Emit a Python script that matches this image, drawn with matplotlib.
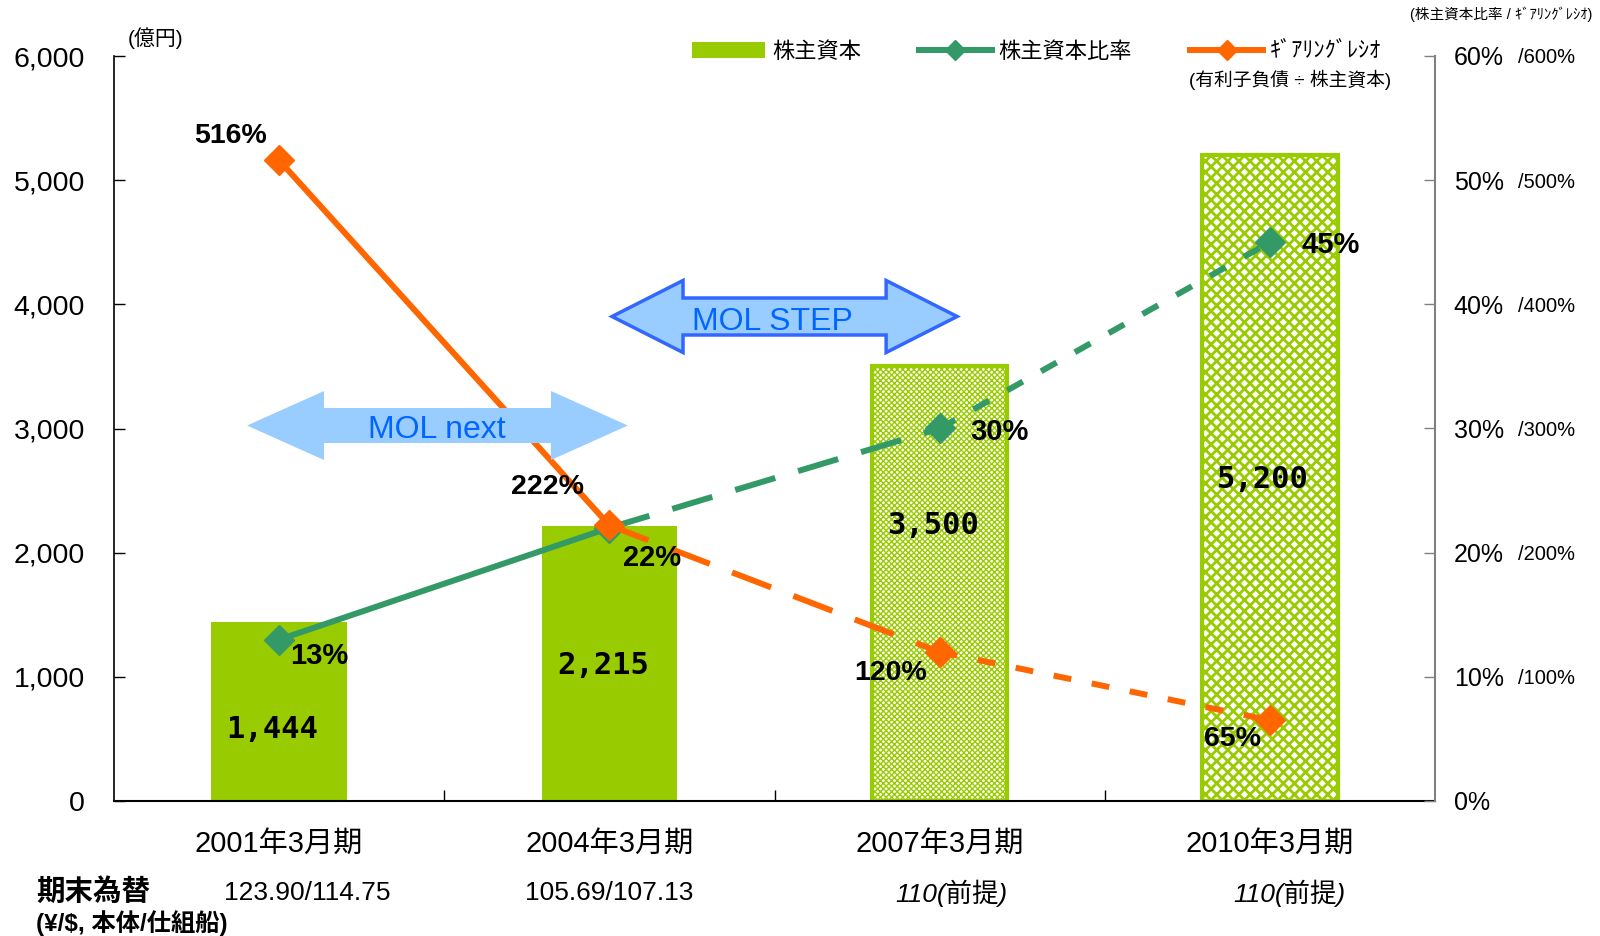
import matplotlib
matplotlib.use("Agg")
import matplotlib.pyplot as plt
from matplotlib.patches import Polygon, Patch
from matplotlib.lines import Line2D
from matplotlib import transforms

plt.rcParams["font.family"] = ["Liberation Sans", "Noto Sans CJK JP"]

# data
periods = ["2001年3月期", "2004年3月期", "2007年3月期", "2010年3月期"]
equity = [1444, 2215, 3500, 5200]        # 株主資本 (億円)
equity_ratio = [13, 22, 30, 45]          # 株主資本比率 (%)
gearing = [516, 222, 120, 65]            # ギアリングレシオ (%)
fx_rates = ["123.90/114.75", "105.69/107.13", "110(前提)", "110(前提)"]
left_ticks = [0, 1000, 2000, 3000, 4000, 5000, 6000]
ratio_ticks = [0, 10, 20, 30, 40, 50, 60]
gearing_ticks = [100, 200, 300, 400, 500, 600]

BAR = "#99CC00"
GREEN = "#339966"
ORANGE = "#FF6600"
ARROW_FILL = "#99CCFF"
ARROW_EDGE = "#3366FF"
ARROW_TEXT = "#0066FF"

fig = plt.figure(figsize=(16, 9.36), dpi=100)
ax = fig.add_axes([114/1600, 1-801/936, 1321/1600, 745/936])
ax2 = ax.twinx()

x = list(range(len(periods)))

# bars
bars = ax.bar(x, equity, width=0.41, color=BAR, linewidth=0, zorder=2)
hatches = [None, None, "xxxxxx", "xxx"]
for b, h in zip(bars, hatches):
    if h:
        b.set_facecolor("white")
        b.set_edgecolor(BAR)
        b.set_linewidth(3)
        b.set_hatch(h)
        if hasattr(b, "set_hatch_linewidth"):
            b.set_hatch_linewidth(2.0 if h == "xxx" else 1.0)

bar_label_y = [572, 1095, 2215, 2593]
for i, v in enumerate(equity):
    ax.text(i - 0.02, bar_label_y[i], f"{v:,}", ha="center", va="center",
            fontsize=22, family="DejaVu Sans Mono", weight="bold", zorder=5)

ax.set_xlim(-0.5, 3.5)
ax.set_ylim(0, 6000)
ax.set_yticks(left_ticks)
ax.set_yticklabels([f"{t:,}" for t in left_ticks])
ax.tick_params(axis="y", direction="in", length=8, width=1, pad=21, labelsize=20.5)
ax.set_xticks(x)
ax.set_xticklabels(periods)
ax.tick_params(axis="x", length=0, pad=21, labelsize=21)
ax.set_xticks([0.5, 1.5, 2.5], minor=True)
ax.tick_params(axis="x", which="minor", direction="in", length=8, width=1)
for s in ["top", "right"]:
    ax.spines[s].set_visible(False)
ax.spines["left"].set_linewidth(1.2)
ax.spines["bottom"].set_linewidth(1.5)

# right axis (ratio %)
ax2.set_ylim(0, 60)
ax2.set_yticks(ratio_ticks)
ax2.set_yticklabels([f"{t}%" for t in ratio_ticks])
ax2.tick_params(axis="y", direction="in", length=8, width=1, color="#808080",
                pad=13.5, labelsize=18)
for s in ["top", "left", "bottom"]:
    ax2.spines[s].set_visible(False)
ax2.spines["right"].set_color("#808080")
ax2.spines["right"].set_linewidth(1.5)

ax3 = ax.twinx()
ax3.set_ylim(0, 60)
ax3.set_yticks([g / 10 for g in gearing_ticks])
ax3.set_yticklabels([f"/{g}%" for g in gearing_ticks])
ax3.tick_params(axis="y", length=0, pad=60, labelsize=14.5)
for s in ax3.spines.values():
    s.set_visible(False)

# lines
seg_styles = ["-", (0, (7, 4)), (0, (3, 3.5))]
gear_scaled = [g / 10 for g in gearing]
for k, ls in enumerate(seg_styles):
    ax2.plot(x[k:k+2], equity_ratio[k:k+2], color=GREEN, lw=4.3,
             linestyle=ls, solid_capstyle="butt", dash_capstyle="butt", zorder=3)
ax2.plot(x, equity_ratio, linestyle="none", marker="D", ms=15, color=GREEN, zorder=4)
for k, ls in enumerate(seg_styles):
    ax2.plot(x[k:k+2], gear_scaled[k:k+2], color=ORANGE, lw=4.3,
             linestyle=ls, solid_capstyle="butt", dash_capstyle="butt", zorder=5)
ax2.plot(x, gear_scaled, linestyle="none", marker="D", ms=15, color=ORANGE, zorder=6)

gear_offsets = [(-49, 24), (-62, 38), (-49, -21), (-37, -19)]
ratio_offsets = [(40, -16), (43, -30), (60, -4), (61, -3)]
for i in x:
    ax2.annotate(f"{gearing[i]}%", (i, gear_scaled[i]), xytext=gear_offsets[i],
                 textcoords="offset pixels", ha="center", va="center",
                 fontsize=20.5, weight="bold", zorder=8)
    ax2.annotate(f"{equity_ratio[i]}%", (i, equity_ratio[i]), xytext=ratio_offsets[i],
                 textcoords="offset pixels", ha="center", va="center",
                 fontsize=21, weight="bold", zorder=8)


# double arrows (left axis units)
def double_arrow(x0, x1, yc, body, head, hl, **kw):
    pts = [(x0, yc), (x0 + hl, yc + head / 2), (x0 + hl, yc + body / 2),
           (x1 - hl, yc + body / 2), (x1 - hl, yc + head / 2), (x1, yc),
           (x1 - hl, yc - head / 2), (x1 - hl, yc - body / 2),
           (x0 + hl, yc - body / 2), (x0 + hl, yc - head / 2)]
    ax2.add_patch(Polygon(pts, closed=True, transform=ax.transData,
                          clip_on=False, **kw))


double_arrow(-0.097, 1.056, 3024, 282, 556, 0.233, facecolor=ARROW_FILL,
             edgecolor="none", zorder=7)
ax2.text(0.478, 2990, "MOL next", transform=ax.transData, ha="center",
         va="center", fontsize=23, color=ARROW_TEXT, zorder=8)
double_arrow(1.008, 2.053, 3902, 298, 580, 0.215, facecolor=ARROW_FILL,
             edgecolor=ARROW_EDGE, linewidth=2.5, zorder=7)
ax2.text(1.495, 3855, "MOL STEP", transform=ax.transData, ha="center",
         va="center", fontsize=23, color=ARROW_TEXT, zorder=8)

# legend
handles = [Patch(facecolor=BAR, edgecolor="none"),
           Line2D([], [], color=GREEN, lw=4.3, marker="D", ms=10),
           Line2D([], [], color=ORANGE, lw=4.3, marker="D", ms=10)]
labels = ["株主資本", "株主資本比率", "ｷﾞｱﾘﾝｸﾞﾚｼｵ"]
fig.legend(handles, labels, loc="center left", bbox_to_anchor=(692/1600, 1-52/936),
           ncol=3, frameon=False, fontsize=16, handlelength=3.3, handletextpad=0.3,
           columnspacing=2.6, borderpad=0, borderaxespad=0)
fig.text(1189/1600, 1-80/936, "(有利子負債 ÷ 株主資本)", fontsize=13.5,
         va="center", ha="left")

fig.text(128/1600, 1-38/936, "(億円)", fontsize=15, va="center", ha="left")
fig.text(1592/1600, 1-14/936, "(株主資本比率 / ｷﾞｱﾘﾝｸﾞﾚｼｵ)", fontsize=10.5,
         va="center", ha="right")

# exchange rate row
fig.text(36/1600, 1-892/936, "期末為替", fontsize=20.5, weight="bold", va="center")
fig.text(36/1600, 1-923/936, "(¥/$, 本体/仕組船)", fontsize=17.5, weight="bold",
         va="center")
fx_x = [0.084, 0.999, 2.037, 3.06]
trans = transforms.blended_transform_factory(ax.transData, fig.transFigure)
for i, s in enumerate(fx_rates):
    ax.text(fx_x[i], 1-893/936, s, transform=trans, ha="center", va="center",
            fontsize=19, style="italic" if i >= 2 else "normal", clip_on=False)

fig.savefig("out.png", dpi=100)
